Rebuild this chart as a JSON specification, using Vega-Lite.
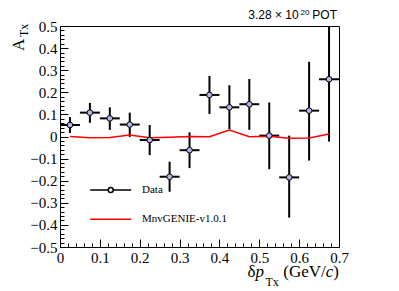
{
  "$schema": "https://vega.github.io/schema/vega-lite/v6.json",
  "width": 279,
  "height": 221,
  "autosize": "none",
  "padding": {"left": 60, "top": 26, "right": 60, "bottom": 44},
  "background": "white",
  "config": {"view": {"stroke": "black", "strokeWidth": 1}, "font": "Liberation Serif", "axis": {"labelFont": "Liberation Serif"}},
  "resolve": {"axis": {"x": "independent", "y": "independent"}},
  "datasets": {
    "data": [
      {"x": 0.025, "xlo": 0.0, "xhi": 0.05, "y": 0.052, "ylo": 0.016, "yhi": 0.088, "series": "Data"},
      {"x": 0.075, "xlo": 0.05, "xhi": 0.1, "y": 0.108, "ylo": 0.062, "yhi": 0.152, "series": "Data"},
      {"x": 0.125, "xlo": 0.1, "xhi": 0.15, "y": 0.082, "ylo": 0.030, "yhi": 0.132, "series": "Data"},
      {"x": 0.175, "xlo": 0.15, "xhi": 0.2, "y": 0.054, "ylo": -0.002, "yhi": 0.108, "series": "Data"},
      {"x": 0.225, "xlo": 0.2, "xhi": 0.25, "y": -0.016, "ylo": -0.084, "yhi": 0.052, "series": "Data"},
      {"x": 0.275, "xlo": 0.25, "xhi": 0.3, "y": -0.182, "ylo": -0.250, "yhi": -0.114, "series": "Data"},
      {"x": 0.325, "xlo": 0.3, "xhi": 0.35, "y": -0.062, "ylo": -0.143, "yhi": 0.019, "series": "Data"},
      {"x": 0.375, "xlo": 0.35, "xhi": 0.4, "y": 0.188, "ylo": 0.102, "yhi": 0.274, "series": "Data"},
      {"x": 0.425, "xlo": 0.4, "xhi": 0.45, "y": 0.132, "ylo": 0.033, "yhi": 0.232, "series": "Data"},
      {"x": 0.475, "xlo": 0.45, "xhi": 0.5, "y": 0.146, "ylo": 0.030, "yhi": 0.260, "series": "Data"},
      {"x": 0.525, "xlo": 0.5, "xhi": 0.55, "y": 0.004, "ylo": -0.148, "yhi": 0.154, "series": "Data"},
      {"x": 0.575, "xlo": 0.55, "xhi": 0.6, "y": -0.185, "ylo": -0.367, "yhi": 0.004, "series": "Data"},
      {"x": 0.625, "xlo": 0.6, "xhi": 0.65, "y": 0.117, "ylo": -0.109, "yhi": 0.338, "series": "Data"},
      {"x": 0.675, "xlo": 0.65, "xhi": 0.7, "y": 0.259, "ylo": -0.023, "yhi": 0.541, "series": "Data"}
    ],
    "model": [
      {"x": 0.025, "y": 0.0, "series": "MnvGENIE-v1.0.1"},
      {"x": 0.075, "y": -0.006, "series": "MnvGENIE-v1.0.1"},
      {"x": 0.125, "y": -0.005, "series": "MnvGENIE-v1.0.1"},
      {"x": 0.175, "y": 0.007, "series": "MnvGENIE-v1.0.1"},
      {"x": 0.225, "y": -0.006, "series": "MnvGENIE-v1.0.1"},
      {"x": 0.275, "y": -0.003, "series": "MnvGENIE-v1.0.1"},
      {"x": 0.325, "y": 0.0, "series": "MnvGENIE-v1.0.1"},
      {"x": 0.375, "y": -0.001, "series": "MnvGENIE-v1.0.1"},
      {"x": 0.425, "y": 0.029, "series": "MnvGENIE-v1.0.1"},
      {"x": 0.475, "y": -0.001, "series": "MnvGENIE-v1.0.1"},
      {"x": 0.525, "y": 0.001, "series": "MnvGENIE-v1.0.1"},
      {"x": 0.575, "y": -0.008, "series": "MnvGENIE-v1.0.1"},
      {"x": 0.625, "y": -0.007, "series": "MnvGENIE-v1.0.1"},
      {"x": 0.675, "y": 0.011, "series": "MnvGENIE-v1.0.1"}
    ]
  },
  "layer": [
    {
      "data": {"name": "data"},
      "mark": {"type": "rule", "clip": true, "strokeWidth": 2},
      "encoding": {
        "x": {
          "field": "x", "type": "quantitative",
          "scale": {"domain": [0, 0.7], "nice": false, "zero": false},
          "axis": {
            "orient": "bottom",
            "values": [0, 0.1, 0.2, 0.3, 0.4, 0.5, 0.6, 0.7],
            "format": "~g",
            "labelFont": "Liberation Serif", "labelFontSize": 15, "labelColor": "black",
            "labelFlush": false, "labelOverlap": false, "labelPadding": 11,
            "tickColor": "black", "tickWidth": 1, "tickSize": -8,
            "domainColor": "black", "domainWidth": 1,
            "grid": false, "title": null
          }
        },
        "y": {
          "field": "ylo", "type": "quantitative",
          "scale": {"domain": [-0.5, 0.5], "nice": false, "zero": false},
          "axis": {
            "orient": "left",
            "values": [-0.5, -0.4, -0.3, -0.2, -0.1, 0, 0.1, 0.2, 0.3, 0.4, 0.5],
            "format": "~g",
            "labelFont": "Liberation Serif", "labelFontSize": 15, "labelColor": "black",
            "labelFlush": false, "labelOverlap": false, "labelPadding": 11,
            "tickColor": "black", "tickWidth": 1, "tickSize": -8,
            "domainColor": "black", "domainWidth": 1,
            "grid": false, "title": null
          }
        },
        "y2": {"field": "yhi"},
        "color": {
          "field": "series", "type": "nominal",
          "scale": {"domain": ["Data", "MnvGENIE-v1.0.1"], "range": ["black", "#ff0000"]},
          "legend": {
            "orient": "none", "legendX": 39.7, "legendY": 153, "title": null, "padding": 0,
            "labelFont": "Liberation Serif", "labelFontSize": 11, "labelColor": "black",
            "labelOffset": 20.3, "rowPadding": 12.2, "symbolSize": 400, "symbolStrokeWidth": 1.5,
            "symbolFillColor": "transparent",
            "encode": {
              "symbols": {
                "update": {
                  "shape": {"signal": "datum.value === 'Data' ? 'M-2.05,0H-0.25M0.25,0H2.05M-0.25,0A0.25,0.25,0,1,1,0.25,0A0.25,0.25,0,1,1,-0.25,0Z' : 'M-2.05,0H2.05'"}
                }
              }
            }
          }
        }
      }
    },
    {
      "data": {"name": "data"},
      "mark": {"type": "rule", "clip": true, "strokeWidth": 2},
      "encoding": {
        "x": {
          "field": "xlo", "type": "quantitative",
          "axis": {
            "orient": "bottom",
            "values": [0,0.02,0.04,0.06,0.08,0.1,0.12,0.14,0.16,0.18,0.2,0.22,0.24,0.26,0.28,0.3,0.32,0.34,0.36,0.38,0.4,0.42,0.44,0.46,0.48,0.5,0.52,0.54,0.56,0.58,0.6,0.62,0.64,0.66,0.68,0.7],
            "labels": false, "domain": false, "grid": false, "title": null,
            "tickColor": "black", "tickWidth": 1, "tickSize": -4
          }
        },
        "x2": {"field": "xhi"},
        "y": {
          "field": "y", "type": "quantitative",
          "axis": {
            "orient": "left",
            "values": [-0.5,-0.48,-0.46,-0.44,-0.42,-0.4,-0.38,-0.36,-0.34,-0.32,-0.3,-0.28,-0.26,-0.24,-0.22,-0.2,-0.18,-0.16,-0.14,-0.12,-0.1,-0.08,-0.06,-0.04,-0.02,0,0.02,0.04,0.06,0.08,0.1,0.12,0.14,0.16,0.18,0.2,0.22,0.24,0.26,0.28,0.3,0.32,0.34,0.36,0.38,0.4,0.42,0.44,0.46,0.48,0.5],
            "labels": false, "domain": false, "grid": false, "title": null,
            "tickColor": "black", "tickWidth": 1, "tickSize": -4
          }
        },
        "color": {"field": "series", "type": "nominal"}
      }
    },
    {
      "data": {"name": "model"},
      "mark": {"type": "line", "strokeWidth": 1.5, "clip": true},
      "encoding": {
        "x": {"field": "x", "type": "quantitative", "axis": null},
        "y": {"field": "y", "type": "quantitative", "axis": null},
        "color": {"field": "series", "type": "nominal"}
      }
    },
    {
      "data": {"name": "data"},
      "mark": {"type": "circle", "fill": "#b3b8ec", "stroke": "black", "strokeWidth": 1, "size": 32, "opacity": 1},
      "encoding": {
        "x": {"field": "x", "type": "quantitative", "axis": null},
        "y": {"field": "y", "type": "quantitative", "axis": null}
      }
    },
    {
      "data": {"values": [{}]},
      "mark": {"type": "text", "text": "δ", "font": "Liberation Serif", "fontSize": 17, "align": "left", "baseline": "alphabetic", "color": "black"},
      "encoding": {"x": {"datum": 0.4704, "axis": null}, "y": {"datum": -0.6335, "axis": null}}
    },
    {
      "data": {"values": [{}]},
      "mark": {"type": "text", "text": "p", "font": "Liberation Serif", "fontStyle": "italic", "fontSize": 17, "align": "left", "baseline": "alphabetic", "color": "black"},
      "encoding": {"x": {"datum": 0.4905, "axis": null}, "y": {"datum": -0.6335, "axis": null}}
    },
    {
      "data": {"values": [{}]},
      "mark": {"type": "text", "text": "Tx", "font": "Liberation Serif", "fontSize": 12, "align": "left", "baseline": "alphabetic", "color": "black"},
      "encoding": {"x": {"datum": 0.5156, "axis": null}, "y": {"datum": -0.6787, "axis": null}}
    },
    {
      "data": {"values": [{}]},
      "mark": {"type": "text", "text": "(GeV/", "font": "Liberation Serif", "fontSize": 17, "align": "left", "baseline": "alphabetic", "color": "black"},
      "encoding": {"x": {"datum": 0.5603, "axis": null}, "y": {"datum": -0.6335, "axis": null}}
    },
    {
      "data": {"values": [{}]},
      "mark": {"type": "text", "text": "c", "font": "Liberation Serif", "fontStyle": "italic", "fontSize": 17, "align": "left", "baseline": "alphabetic", "color": "black"},
      "encoding": {"x": {"datum": 0.6669, "axis": null}, "y": {"datum": -0.6335, "axis": null}}
    },
    {
      "data": {"values": [{}]},
      "mark": {"type": "text", "text": ")", "font": "Liberation Serif", "fontSize": 17, "align": "left", "baseline": "alphabetic", "color": "black"},
      "encoding": {"x": {"datum": 0.6857, "axis": null}, "y": {"datum": -0.6335, "axis": null}}
    },
    {
      "data": {"values": [{}]},
      "mark": {"type": "text", "text": "A", "font": "Liberation Serif", "fontSize": 17, "angle": 270, "align": "left", "baseline": "alphabetic", "color": "black"},
      "encoding": {"x": {"datum": -0.0903, "axis": null}, "y": {"datum": 0.3869, "axis": null}}
    },
    {
      "data": {"values": [{}]},
      "mark": {"type": "text", "text": "Tx", "font": "Liberation Serif", "fontSize": 12, "angle": 270, "align": "left", "baseline": "alphabetic", "color": "black"},
      "encoding": {"x": {"datum": -0.0803, "axis": null}, "y": {"datum": 0.4502, "axis": null}}
    },
    {
      "data": {"values": [{}]},
      "mark": {"type": "text", "text": "3.28 × 10", "font": "Liberation Sans", "fontSize": 12, "align": "left", "baseline": "alphabetic", "color": "black"},
      "encoding": {"x": {"datum": 0.4724, "axis": null}, "y": {"datum": 0.530, "axis": null}}
    },
    {
      "data": {"values": [{}]},
      "mark": {"type": "text", "text": "20", "font": "Liberation Sans", "fontSize": 8, "align": "left", "baseline": "alphabetic", "color": "black"},
      "encoding": {"x": {"datum": 0.6034, "axis": null}, "y": {"datum": 0.5498, "axis": null}}
    },
    {
      "data": {"values": [{}]},
      "mark": {"type": "text", "text": "POT", "font": "Liberation Sans", "fontSize": 12, "align": "left", "baseline": "alphabetic", "color": "black"},
      "encoding": {"x": {"datum": 0.633, "axis": null}, "y": {"datum": 0.530, "axis": null}}
    }
  ]
}
